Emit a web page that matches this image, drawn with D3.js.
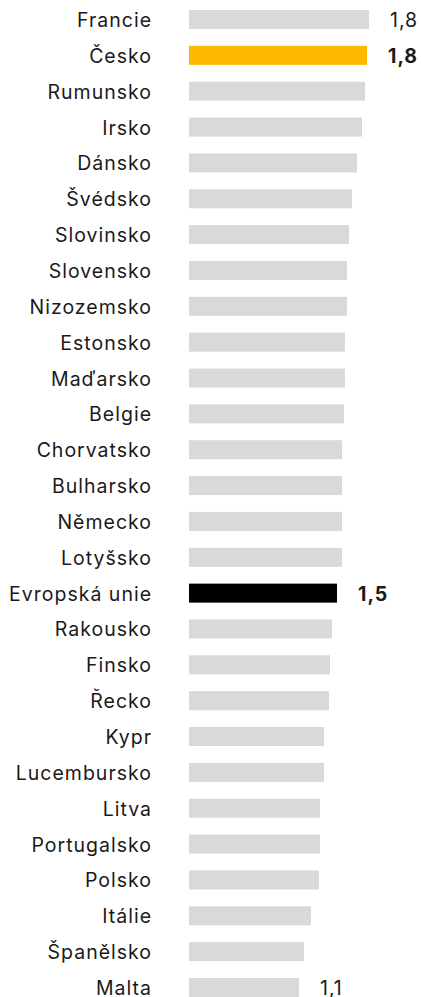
<!DOCTYPE html>
<html>
<head>
<meta charset="utf-8">
<script src="https://cdn.jsdelivr.net/npm/d3@7"></script>
<style>
  body { margin: 0; background: #fff; }
  text { font-family: Inter, "Noto Sans", sans-serif; }
</style>
</head>
<body>
<div id="chart"></div>
<script>
// data
const countries = ['Francie', 'Česko', 'Rumunsko', 'Irsko', 'Dánsko', 'Švédsko', 'Slovinsko',
  'Slovensko', 'Nizozemsko', 'Estonsko', 'Maďarsko', 'Belgie', 'Chorvatsko', 'Bulharsko',
  'Německo', 'Lotyšsko', 'Evropská unie', 'Rakousko', 'Finsko', 'Řecko', 'Kypr', 'Lucembursko',
  'Litva', 'Portugalsko', 'Polsko', 'Itálie', 'Španělsko', 'Malta'];
const values = [1.80, 1.78, 1.76, 1.73, 1.68, 1.63, 1.60, 1.58, 1.58, 1.56, 1.56, 1.55, 1.53, 1.53,
  1.53, 1.53, 1.48, 1.43, 1.41, 1.40, 1.35, 1.35, 1.31, 1.31, 1.30, 1.22, 1.15, 1.10];
const valueLabels = { 'Francie': '1,8', 'Česko': '1,8', 'Evropská unie': '1,5', 'Malta': '1,1' };
const highlight = { 'Česko': '#ffb900', 'Evropská unie': '#000000' };
const boldLabels = ['Česko', 'Evropská unie'];

const data = countries.map((c, i) => ({ name: c, value: values[i] }));

const width = 421;
const height = 997;
const barLeft = 189;

const svg = d3.select('#chart')
  .append('svg')
  .attr('width', width)
  .attr('height', height);

const x = d3.scaleLinear()
  .domain([0, 1.8])
  .range([barLeft, 369]);

const y = d3.scaleBand()
  .domain(countries)
  .range([10, 997])
  .paddingInner(0.47)
  .paddingOuter(0);

svg.append('g')
  .selectAll('rect')
  .data(data)
  .join('rect')
    .attr('x', x(0))
    .attr('y', d => y(d.name))
    .attr('width', d => x(d.value) - x(0))
    .attr('height', y.bandwidth())
    .attr('fill', d => highlight[d.name] || '#d9d9d9');

// country names
svg.append('g')
  .selectAll('text')
  .data(data)
  .join('text')
    .attr('x', 152)
    .attr('y', d => y(d.name) + y.bandwidth() / 2 + 7.5)
    .attr('text-anchor', 'end')
    .attr('font-size', '19.5px')
    .attr('letter-spacing', '1px')
    .attr('fill', '#1a1a1a')
    .text(d => d.name);

// values at the ends
svg.append('g')
  .selectAll('text')
  .data(data.filter(d => valueLabels[d.name]))
  .join('text')
    .attr('x', d => x(d.value) + 21)
    .attr('y', d => y(d.name) + y.bandwidth() / 2 + 7.5)
    .attr('font-size', '19.5px')
    .attr('letter-spacing', '1px')
    .attr('font-weight', d => boldLabels.includes(d.name) ? 700 : 400)
    .attr('fill', '#1a1a1a')
    .text(d => valueLabels[d.name]);
</script>
</body>
</html>
